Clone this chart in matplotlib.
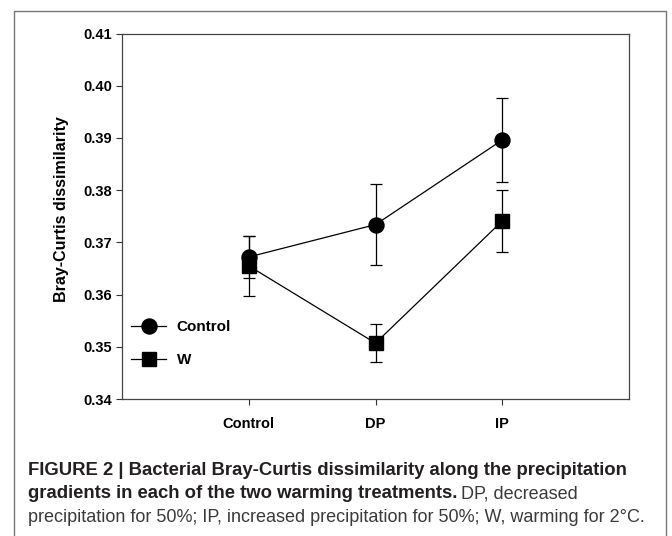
import matplotlib
matplotlib.use('Agg')
from matplotlib import pyplot as plt
from matplotlib.patches import Rectangle
from matplotlib.lines import Line2D

# data
groups = ['Control', 'DP', 'IP']
control_mean = [0.3672, 0.3734, 0.3896]
control_err = [0.0040, 0.0077, 0.0080]
warm_mean = [0.3655, 0.3507, 0.3741]
warm_err = [0.0058, 0.0037, 0.0060]
yticks = [0.34, 0.35, 0.36, 0.37, 0.38, 0.39, 0.40, 0.41]

W, H = 672, 536
plt.rcParams['font.family'] = ['Liberation Sans', 'DejaVu Sans']

fig = plt.figure(figsize=(W / 100, H / 100), dpi=100)
ax = fig.add_axes([122 / W, 1 - 399 / H, (629 - 122) / W, (399 - 33.5) / H])

x = list(range(1, len(groups) + 1))
ax.errorbar(x, control_mean, yerr=control_err, fmt='-o', color='black',
            ms=10.8, lw=0.9, elinewidth=0.9, capsize=4, capthick=0.9, zorder=3)
ax.errorbar(x, warm_mean, yerr=warm_err, fmt='-s', color='black',
            ms=9.4, lw=0.9, elinewidth=0.9, capsize=4, capthick=0.9, zorder=3)

ax.set_xlim(0, 4)
ax.set_ylim(0.34, 0.41)
ax.set_xticks(x)
ax.set_xticklabels(groups, fontsize=10.5, fontweight='bold')
ax.set_yticks(yticks)
ax.set_yticklabels([f'{v:.2f}' for v in yticks], fontsize=10.5, fontweight='bold')
ax.tick_params(direction='out', length=4, width=0.8, color='#333333', pad=3)
ax.tick_params(axis='x', pad=9)
for s in ax.spines.values():
    s.set_color('#444444')
    s.set_linewidth(0.9)
ax.set_ylabel('Bray-Curtis dissimilarity', fontsize=11.5, fontweight='bold')
ax.yaxis.set_label_coords(-0.104, 0.52)

handles = [Line2D([], [], color='black', marker='o', ms=10.8, lw=0.9),
           Line2D([], [], color='black', marker='s', ms=9.4, lw=0.9)]
ax.legend(handles, ['Control', 'W'], loc='upper left',
          bbox_to_anchor=(131 / W, 1 - 320 / H),
          bbox_transform=fig.transFigure, frameon=False,
          prop={'weight': 'bold', 'size': 11}, handlelength=2.3,
          handletextpad=0.7, labelspacing=1.25, borderpad=0, borderaxespad=0)

# outer frame of the figure panel
fig.add_artist(Rectangle((14 / W, -0.05), (666 - 14) / W, 1 - 11 / H + 0.05,
                         transform=fig.transFigure, fill=False,
                         edgecolor='#777777', lw=1.0))

# caption
fb = 13.3
fr = 13.0
x0 = 28 / W
fig.text(x0, 1 - 475 / H, 'FIGURE 2 | Bacterial Bray-Curtis dissimilarity along the precipitation',
         fontsize=fb, fontweight='bold', color='#231f20')
t2 = fig.text(x0, 1 - 498.5 / H, 'gradients in each of the two warming treatments.',
              fontsize=fb, fontweight='bold', color='#231f20')
fig.canvas.draw()
bb = t2.get_window_extent(renderer=fig.canvas.get_renderer())
fig.text(bb.x1 / W + 4 / W, 1 - 498.5 / H, 'DP, decreased',
         fontsize=fr, color='#3a3a3a')
fig.text(x0, 1 - 522 / H,
         'precipitation for 50%; IP, increased precipitation for 50%; W, warming for 2\u00b0C.',
         fontsize=fr, color='#3a3a3a')

fig.savefig('out.png', dpi=100)
